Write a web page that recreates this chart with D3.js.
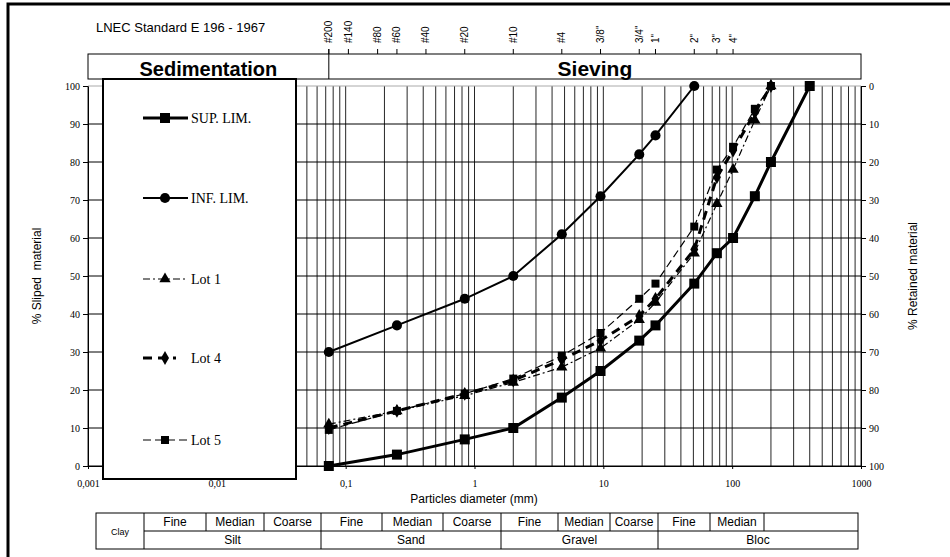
<!DOCTYPE html>
<html>
<head>
<meta charset="utf-8">
<script src="https://cdn.jsdelivr.net/npm/d3@7"></script>
<style>
  html, body { margin: 0; padding: 0; background: #fff; }
  svg { display: block; }
  .serif { font-family: "Liberation Serif", "Times New Roman", serif; }
  .sans { font-family: "Liberation Sans", Arial, sans-serif; }
</style>
</head>
<body>
<svg id="chart" width="950" height="557"></svg>
<script>
// Particle sizes (mm) and passing percentages
const supSizes = [0.074, 0.25, 0.84, 2.0, 4.76, 9.51, 19.0, 25.4, 50.8, 76.1, 101.6, 150, 200, 400];
const supLim   = [0, 3, 7, 10, 18, 25, 33, 37, 48, 56, 60, 71, 80, 100];
const infSizes = [0.074, 0.25, 0.84, 2.0, 4.76, 9.51, 19.0, 25.4, 50.8];
const infLim   = [30, 37, 44, 50, 61, 71, 82, 87, 100];
const lotSizes = [0.074, 0.25, 0.84, 2.0, 4.76, 9.51, 19.0, 25.4, 50.8, 76.1, 101.6, 150, 200];
const lot1     = [11, 14.5, 18.5, 22, 26, 31, 38.5, 43, 56, 69, 78, 91, 100];
const lot4     = [10, 14.5, 19, 22.5, 28, 33, 39.5, 44, 57, 76, 83, 93, 100];
const lot5     = [9.5, 14.5, 19, 23, 29, 35, 44, 48, 63, 78, 84, 94, 100];

// Axis ticks
const xTickValues = [0.001, 0.01, 0.1, 1, 10, 100, 1000];
const xTickLabels = ["0,001", "0,01", "0,1", "1", "10", "100", "1000"];
const yTickValues = [0, 10, 20, 30, 40, 50, 60, 70, 80, 90, 100];

// ASTM sieve series shown along the top
const sieveLabels = ["#200", "#140", "#80", "#60", "#40", "#20", "#10", "#4", "3/8\"", "3/4\"", "1\"", "2\"", "3\"", "4\""];
const sieveSizes  = [0.074, 0.105, 0.177, 0.25, 0.42, 0.84, 2.0, 4.76, 9.51, 19.0, 25.4, 50.8, 76.1, 101.6];

// Soil classification table
const subClasses  = ["Fine", "Median", "Coarse", "Fine", "Median", "Coarse", "Fine", "Median", "Coarse", "Fine", "Median", ""];
const mainClasses = ["Silt", "Sand", "Gravel", "Bloc"];
const mainSpans   = [3, 3, 3, 3];
const tableEdges  = [96, 144, 206, 264, 321, 382, 443, 501, 558, 610, 658, 710, 764, 858];

const svg = d3.select("#chart");
const L = 88, R = 861, T = 86, B = 466;

const x = d3.scaleLog().domain([0.001, 1000]).range([L, R]);
const y = d3.scaleLinear().domain([0, 100]).range([B, T]);
const yR = d3.scaleLinear().domain([100, 0]).range([B, T]);

// outer frame (left and top edges)
svg.append("path").attr("d", `M8,600V4H960`).attr("fill", "none")
  .attr("stroke", "#000").attr("stroke-width", 3);

// plot background
svg.append("rect").attr("x", L).attr("y", T).attr("width", R - L).attr("height", B - T).attr("fill", "#fff");

// vertical grid on every log subdivision
svg.append("g").selectAll("line").data(x.ticks()).join("line")
  .attr("x1", d => x(d)).attr("x2", d => x(d))
  .attr("y1", T).attr("y2", B)
  .attr("stroke", "#000").attr("stroke-width", 1).attr("stroke-opacity", 0.85);

// horizontal grid
svg.append("g").selectAll("line").data(yTickValues).join("line")
  .attr("x1", L).attr("x2", R)
  .attr("y1", d => y(d)).attr("y2", d => y(d))
  .attr("stroke", d => d === 100 ? "#aaa" : "#000").attr("stroke-width", 1);

// left axis
const gL = svg.append("g").attr("transform", `translate(${L},0)`)
  .call(d3.axisLeft(y).tickValues(yTickValues).tickSize(5).tickSizeOuter(0).tickPadding(3));
// right axis (retained)
const gR = svg.append("g").attr("transform", `translate(${R},0)`)
  .call(d3.axisRight(yR).tickValues(yTickValues).tickSize(5).tickSizeOuter(0).tickPadding(3));
// bottom axis
const gB = svg.append("g").attr("transform", `translate(0,${B})`)
  .call(d3.axisBottom(x).tickValues(xTickValues).tickSize(3).tickSizeOuter(0).tickPadding(11)
    .tickFormat((d, i) => xTickLabels[i]));

[gL, gR, gB].forEach(g => {
  g.selectAll("text").attr("class", "serif").style("font-size", "10px").attr("fill", "#000");
  g.selectAll("line").attr("stroke", "#000");
  g.select(".domain").attr("stroke", "#000");
  g.attr("font-family", null);
});

// header boxes: Sedimentation / Sieving
const sep = x(0.074);
svg.append("rect").attr("x", L).attr("y", 54).attr("width", R - L).attr("height", 25)
  .attr("fill", "#fff").attr("stroke", "#000").attr("stroke-width", 1);
svg.append("line").attr("x1", sep).attr("x2", sep).attr("y1", 49).attr("y2", 79).attr("stroke", "#000");
svg.append("text").attr("class", "sans").attr("x", (L + sep) / 2).attr("y", 76)
  .attr("text-anchor", "middle").style("font-size", "20px").style("font-weight", "bold").text("Sedimentation");
svg.append("text").attr("class", "sans").attr("x", (sep + R) / 2).attr("y", 76)
  .attr("text-anchor", "middle").style("font-size", "21px").style("font-weight", "bold").text("Sieving");

// sieve ticks and labels
const sg = svg.append("g");
sg.selectAll("line").data(sieveSizes).join("line")
  .attr("x1", d => x(d)).attr("x2", d => x(d)).attr("y1", 49).attr("y2", 54).attr("stroke", "#000");
sg.selectAll("text").data(sieveSizes).join("text")
  .attr("class", "sans")
  .attr("transform", d => `translate(${x(d)},43) rotate(-90)`)
  .attr("dy", "0.35em").attr("text-anchor", "start").style("font-size", "10px")
  .text((d, i) => sieveLabels[i]);

svg.append("text").attr("class", "sans").attr("x", 96).attr("y", 32)
  .style("font-size", "13px").text("LNEC Standard E 196 - 1967");

// series definitions
const series = [
  { name: "SUP. LIM.", xs: supSizes, ys: supLim, width: 3, dash: null, sym: d3.symbolSquare, size: 100 },
  { name: "INF. LIM.", xs: infSizes, ys: infLim, width: 2, dash: null, sym: d3.symbolCircle, size: 80 },
  { name: "Lot 1", xs: lotSizes, ys: lot1, width: 1.2, dash: "7,3,2,3", sym: d3.symbolTriangle, size: 55 },
  { name: "Lot 4", xs: lotSizes, ys: lot4, width: 3, dash: "9,6", sym: d3.symbolDiamond, size: 55 },
  { name: "Lot 5", xs: lotSizes, ys: lot5, width: 1.2, dash: "8,4", sym: d3.symbolSquare, size: 64 }
];

const line = d3.line().x(d => x(d[0])).y(d => y(d[1]));
const gs = svg.append("g");
series.forEach(s => {
  const pts = s.xs.map((v, i) => [v, s.ys[i]]);
  gs.append("path").datum(pts).attr("d", line).attr("fill", "none")
    .attr("stroke", "#000").attr("stroke-width", s.width)
    .attr("stroke-dasharray", s.dash);
  gs.append("g").selectAll("path").data(pts).join("path")
    .attr("transform", d => `translate(${x(d[0])},${y(d[1])})`)
    .attr("d", d3.symbol(s.sym, s.size)).attr("fill", "#000");
});

// legend
const lg = svg.append("g");
lg.append("rect").attr("x", 103).attr("y", 79).attr("width", 193).attr("height", 400)
  .attr("fill", "#fff").attr("stroke", "#000").attr("stroke-width", 2);
const legendY = [118, 198, 279, 358, 440];
series.forEach((s, i) => {
  const ly = legendY[i];
  const x2 = s.name === "Lot 4" ? 176 : 188;
  lg.append("line").attr("x1", 143).attr("x2", x2).attr("y1", ly).attr("y2", ly)
    .attr("stroke", "#000").attr("stroke-width", s.width).attr("stroke-dasharray", s.dash);
  lg.append("path").attr("transform", `translate(165,${ly})`)
    .attr("d", d3.symbol(s.sym, s.size)).attr("fill", "#000");
  lg.append("text").attr("class", "serif").attr("x", 191).attr("y", ly + 5)
    .style("font-size", "14px").text(s.name);
});

// axis titles
svg.append("text").attr("class", "sans").attr("transform", "translate(37,276) rotate(-90)")
  .attr("dy", "0.35em").attr("text-anchor", "middle").style("font-size", "12px")
  .style("white-space", "pre").text("% Sliped  material");
svg.append("text").attr("class", "sans").attr("transform", "translate(913,276) rotate(-90)")
  .attr("dy", "0.35em").attr("text-anchor", "middle").style("font-size", "12px")
  .text("% Retained material");
svg.append("text").attr("class", "sans").attr("x", 474).attr("y", 503)
  .attr("text-anchor", "middle").style("font-size", "12px").text("Particles diameter (mm)");

// classification table
const tL = tableEdges[0], tR = tableEdges[tableEdges.length - 1];
const tT = 513, tM = 531, tB = 549;
const tg = svg.append("g").attr("class", "sans");
tg.append("rect").attr("x", tL).attr("y", tT).attr("width", tR - tL).attr("height", tB - tT)
  .attr("fill", "#fff").attr("stroke", "#000");
tg.append("line").attr("x1", tableEdges[1]).attr("x2", tR).attr("y1", tM).attr("y2", tM).attr("stroke", "#000");
// sub-class cells
subClasses.forEach((c, i) => {
  const a = tableEdges[i + 1], b = tableEdges[i + 2];
  tg.append("line").attr("x1", a).attr("x2", a).attr("y1", tT).attr("y2", i % 3 === 0 ? tB : tM).attr("stroke", "#000");
  tg.append("text").attr("x", (a + b) / 2).attr("y", tT + 13).attr("text-anchor", "middle")
    .style("font-size", "12px").text(c);
});
// main classes
let ci = 1;
mainClasses.forEach((m, i) => {
  const a = tableEdges[ci], b = tableEdges[ci + mainSpans[i]];
  ci += mainSpans[i];
  tg.append("text").attr("x", (a + b) / 2).attr("y", tM + 13).attr("text-anchor", "middle")
    .style("font-size", "12px").text(m);
});
tg.append("text").attr("x", (tL + tableEdges[1]) / 2).attr("y", tM + 4).attr("text-anchor", "middle")
  .style("font-size", "9px").text("Clay");
</script>
</body>
</html>
